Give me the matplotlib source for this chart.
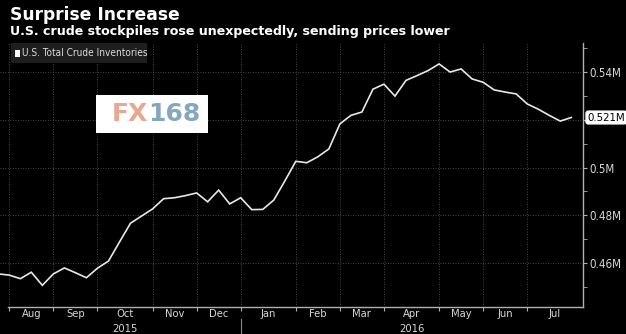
import matplotlib
matplotlib.use("Agg")
import matplotlib.pyplot as plt
import matplotlib.transforms as mtransforms
from matplotlib.lines import Line2D
from matplotlib.patches import Rectangle
from matplotlib import font_manager
import numpy as np
import pandas as pd

# Weekly U.S. total crude inventories, week ending on Fridays
first_week = "2015-07-31"
inventories = [
    0.4553, 0.4548, 0.4533, 0.4560, 0.4505, 0.4553, 0.4578, 0.4558, 0.4537,
    0.4577, 0.4607, 0.4687, 0.4766, 0.4796, 0.4826, 0.4869, 0.4873, 0.4882,
    0.4893, 0.4856, 0.4905, 0.4847, 0.4873, 0.4823, 0.4824, 0.4863, 0.4943,
    0.5026, 0.5020, 0.5045, 0.5078, 0.5183, 0.5219, 0.5233, 0.5329, 0.5350,
    0.5300, 0.5366, 0.5386, 0.5407, 0.5435, 0.5401, 0.5414, 0.5372, 0.5358,
    0.5326, 0.5317, 0.5309, 0.5267, 0.5245, 0.5219, 0.5195, 0.521,
]
last_label = "0.521M"
series_name = "U.S. Total Crude Inventories"
y_major = [0.46, 0.48, 0.50, 0.52, 0.54]
y_labels = ["0.46M", "0.48M", "0.5M", "", "0.54M"]
y_minor = [0.45, 0.47, 0.49, 0.51, 0.53, 0.55]
title = "Surprise Increase"
subtitle = "U.S. crude stockpiles rose unexpectedly, sending prices lower"

dates = pd.date_range(first_week, periods=len(inventories), freq="W-FRI")

available = {f.name for f in font_manager.fontManager.ttflist}
narrow = "Liberation Sans Narrow" if "Liberation Sans Narrow" in available else "DejaVu Sans"
small_font = dict(family=narrow, stretch="condensed")

W, H = 626, 334
fig = plt.figure(figsize=(W / 100, H / 100), dpi=100, facecolor="black")
ax = fig.add_axes([0, 27 / H, 583.3 / W, (307 - 43) / H], facecolor="black")

x = np.arange(len(inventories))
ax.plot(x, inventories, color="#e8e8e8", lw=1.2, solid_joinstyle="miter")

# month boundaries: first week of each month shown on the axis
months = dates.to_period("M")
starts = [i for i in range(1, len(dates)) if months[i] != months[i - 1]]
x_right = len(dates) + 0.09
bounds = starts + [len(dates)]
mids = [(a + b) / 2 for a, b in zip(bounds[:-1], bounds[1:])]
month_names = [dates[i].strftime("%b") for i in starts]

ax.set_xlim(0.156, x_right)
ax.set_ylim(0.4414, 0.5523)

for s in ["top", "left"]:
    ax.spines[s].set_visible(False)
ax.spines["right"].set_color("#b0b0b0")
ax.spines["bottom"].set_color("#b0b0b0")
ax.spines["right"].set_linewidth(1.0)
ax.spines["bottom"].set_linewidth(1.0)
ax.spines["bottom"].set_bounds(starts[0] - 0.1, x_right)

grid_kw = dict(color="#5a5a5a", linestyle=(0, (1, 2)), linewidth=0.6)
ax.set_xticks(starts)
ax.set_xticklabels([])
ax.set_xticks(mids, minor=True)
ax.set_xticklabels(month_names, minor=True, color="#d8d8d8", fontsize=8, **small_font)
ax.tick_params(axis="x", which="major", length=3, color="#b0b0b0", direction="out")
ax.tick_params(axis="x", which="minor", length=0, pad=1.5)
ax.xaxis.grid(True, which="major", **grid_kw)

ax.yaxis.tick_right()
ax.set_yticks(y_major)
ax.set_yticklabels(y_labels, color="#d8d8d8", fontsize=8.3, **small_font)
ax.set_yticks(y_minor, minor=True)
ax.tick_params(axis="y", which="both", length=3, color="#b0b0b0", pad=1.5)
ax.yaxis.grid(True, which="major", **grid_kw)

# year labels and separator below the month labels
xtr = mtransforms.blended_transform_factory(ax.transData, ax.transAxes)
years = sorted(set(d.year for d in dates[starts]))
for yr in years:
    idx = [i for i in starts if dates[i].year == yr]
    lo = idx[0]
    hi = [b for b in bounds if b > idx[-1]][0]
    ax.text((lo + hi) / 2, -0.082, str(yr), transform=xtr, ha="center", va="center",
            color="#d8d8d8", fontsize=8, **small_font)
for i in starts[1:]:
    if dates[i].year != dates[i - 1].year:
        ax.add_line(Line2D([i, i], [-0.045, -0.11], transform=xtr, color="#8a8a8a",
                           lw=0.8, clip_on=False))

# last value tag
ytr = mtransforms.blended_transform_factory(ax.transAxes, ax.transData)
ax.text(1.007, inventories[-1], last_label, transform=ytr, ha="left", va="center",
        color="black", fontsize=8.2, **small_font,
        bbox=dict(boxstyle="round,pad=0.12,rounding_size=0.2", fc="white", ec="white"))

# titles
fig.text(10 / W, 1 - 14.5 / H, title, color="white", fontsize=12.3, fontweight="bold",
         ha="left", va="center")
fig.text(10 / W, 1 - 31 / H, subtitle, color="white", fontsize=9.1, fontweight="bold",
         ha="left", va="center")

# legend box
fig.patches.append(Rectangle((10.7 / W, 1 - 63 / H), 136 / W, 20 / H, transform=fig.transFigure,
                             fc="#1e1e1e", ec="none"))
fig.patches.append(Rectangle((14.5 / W, 1 - 56.5 / H), 6 / W, 7 / H, transform=fig.transFigure,
                             fc="white", ec="none"))
fig.text(22 / W, 1 - 53 / H, series_name, color="#dcdcdc", fontsize=7.2, ha="left",
         va="center", **small_font)

# watermark
fig.patches.append(Rectangle((96 / W, 1 - 133 / H), 112 / W, 38 / H, transform=fig.transFigure,
                             fc="white", ec="none"))
fig.text(147.5 / W, 1 - 114 / H, "FX", color="#e6a892", fontsize=18, fontweight="bold",
         ha="right", va="center")
fig.text(148 / W, 1 - 114 / H, "168", color="#84a6be", fontsize=18, fontweight="bold",
         ha="left", va="center")

fig.savefig("out.png", dpi=100, facecolor="black")
